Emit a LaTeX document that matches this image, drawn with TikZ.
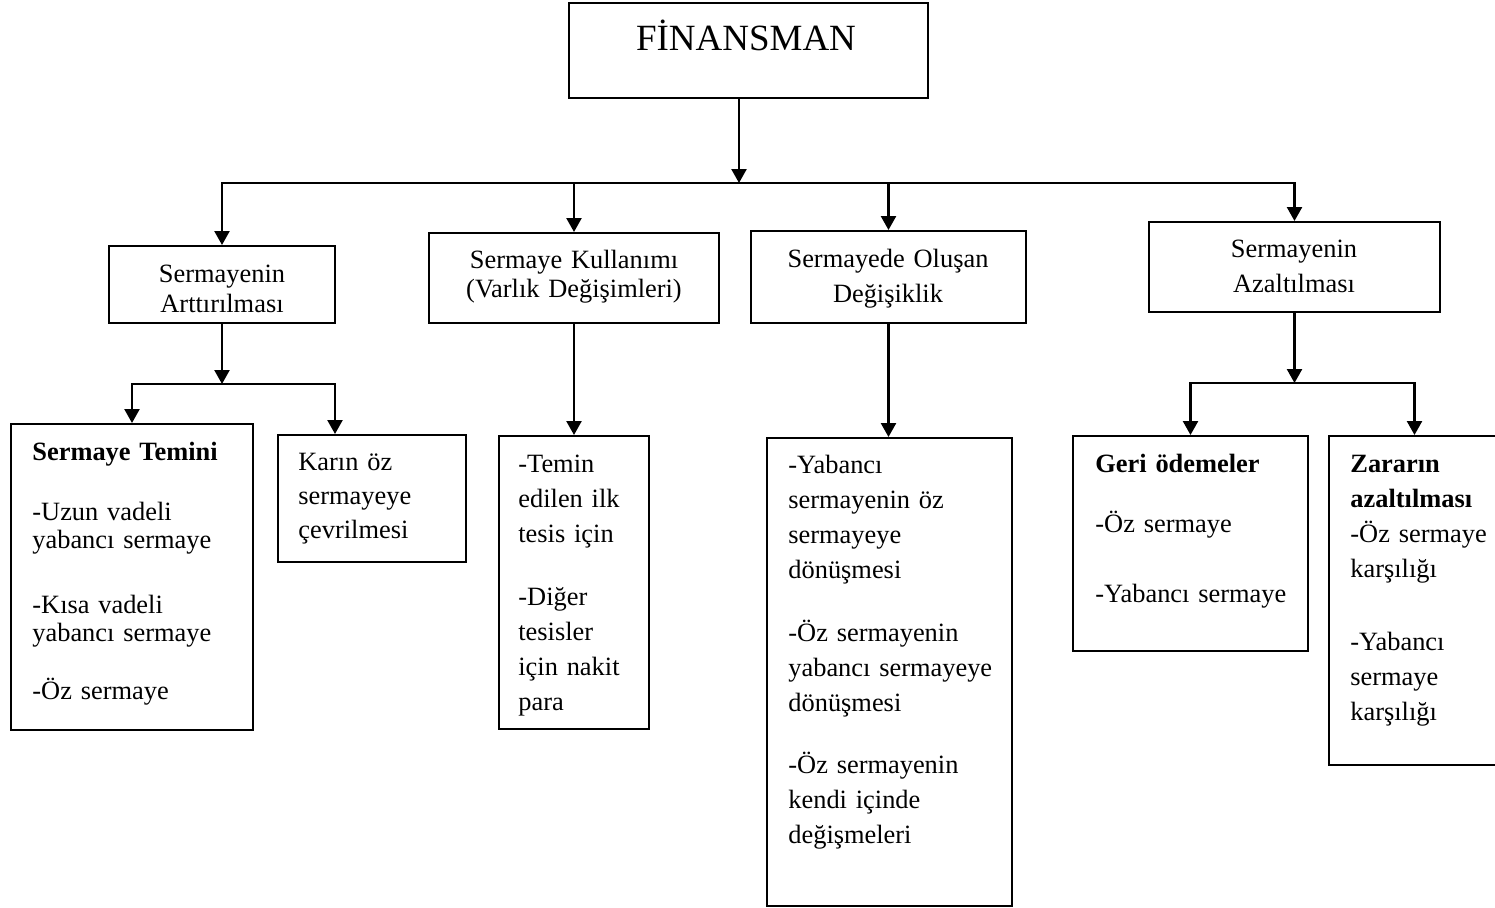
\documentclass[tikz,border=0pt]{standalone}
\usepackage{fontspec}
\setmainfont{Liberation Serif}
\usetikzlibrary{arrows.meta,fit}

\tikzset{
  box/.style={draw, line width=1pt, inner sep=0pt},
  line/.style={line width=1.2pt, line cap=rect},
  arr/.style={line width=1.2pt, -{Triangle[width=7.5pt,length=7pt]}},
  txt/.style={inner sep=0pt, anchor=base west, align=left, text width=125pt,
    font=\fontsize{13.2}{17.5}\selectfont},
  head/.style={inner sep=0pt, anchor=base, align=center, text width=140pt,
    font=\fontsize{13.2}{17.5}\selectfont}
}

\begin{document}
\begin{tikzpicture}[x=0.5pt, y=-0.5pt]
\useasboundingbox (0,0) rectangle (1495,907);
\clip (0,0) rectangle (1495,907);
\fill [white] (0,0) rectangle (1495,907);

% boxes
\node [box, fit={(569,3) (928,98)}] (fin) {};
\node [box, fit={(109,246) (335,323)}] (art) {};
\node [box, fit={(429,233) (719,323)}] (kul) {};
\node [box, fit={(751,231) (1026,323)}] (deg) {};
\node [box, fit={(1149,222) (1440,312)}] (aza) {};
\node [box, fit={(11,424) (253,730)}] (temin) {};
\node [box, fit={(278,435) (466,562)}] (kar) {};
\node [box, fit={(499,436) (649,729)}] (tesis) {};
\node [box, fit={(767,438) (1012,906)}] (donus) {};
\node [box, fit={(1073,436) (1308,651)}] (geri) {};
\node [box, fit={(1329,436) (1500,765)}] (zarar) {};

% texts
\node [anchor=base, inner sep=0pt, font=\fontsize{18.5}{22}\selectfont] (fint) at (746,50) {FİNANSMAN};
\node [head, font=\fontsize{13.2}{15}\selectfont] (artt) at (222,282) {Sermayenin\\Arttırılması};
\node [head, font=\fontsize{13.2}{14.5}\selectfont] (kult) at (574,268) {Sermaye Kullanımı\\(Varlık Değişimleri)};
\node [head] (degt) at (888,267) {Sermayede Oluşan\\Değişiklik};
\node [head] (azat) at (1294,257) {Sermayenin\\Azaltılması};

\node [txt, font=\fontsize{13.2}{14}\selectfont] (temint) at (32,460)
  {\textbf{Sermaye Temini}\\[16pt] -Uzun vadeli\\yabancı sermaye\\[18.5pt] -Kısa vadeli\\yabancı sermaye\\[15pt] -Öz sermaye};
\node [txt, font=\fontsize{13.2}{17}\selectfont] (kart) at (298,470) {Karın öz\\sermayeye\\çevrilmesi};
\node [txt] (tesist) at (518,472)
  {-Temin\\edilen ilk\\tesis için\\[14pt] -Diğer\\tesisler\\için nakit\\para};
\node [txt] (donust) at (788,473)
  {-Yabancı\\sermayenin öz\\sermayeye\\dönüşmesi\\[14pt] -Öz sermayenin\\yabancı sermayeye\\dönüşmesi\\[13.5pt] -Öz sermayenin\\kendi içinde\\değişmeleri};
\node [txt] (gerit) at (1095,472)
  {\textbf{Geri ödemeler}\\[12.5pt] -Öz sermaye\\[17.5pt] -Yabancı sermaye};
\node [txt] (zarart) at (1350,472)
  {\textbf{Zararın}\\\textbf{azaltılması}\\-Öz sermaye\\karşılığı\\[19pt] -Yabancı\\sermaye\\karşılığı};

% connectors
\coordinate (hub) at (739,183);
\draw [arr] (fin.south -| hub) -- (hub);
\draw [line] (art.north |- hub) -- (aza.north |- hub);
\draw [arr] (art.north |- hub) -- (art.north);
\draw [arr] (kul.north |- hub) -- (kul.north);
\draw [arr] (deg.north |- hub) -- (deg.north);
\draw [arr] (aza.north |- hub) -- (aza.north);

\coordinate (j1) at (222,384);
\coordinate (j1a) at (132,384);
\coordinate (j1b) at (335,384);
\draw [arr] (art.south) -- (j1);
\draw [line] (j1a) -- (j1b);
\draw [arr] (j1a) -- (temin.north);
\draw [arr] (j1b) -- (j1b |- kar.north);

\draw [arr] (kul.south) -- (tesis.north);
\draw [arr] (deg.south) -- (deg.south |- donus.north);

\coordinate (j4) at (1294.5,383);
\coordinate (j4a) at (1190.5,383);
\coordinate (j4b) at (1414.5,383);
\draw [arr] (aza.south) -- (j4);
\draw [line] (j4a) -- (j4b);
\draw [arr] (j4a) -- (geri.north);
\draw [arr] (j4b) -- (zarar.north);
\end{tikzpicture}
\end{document}
